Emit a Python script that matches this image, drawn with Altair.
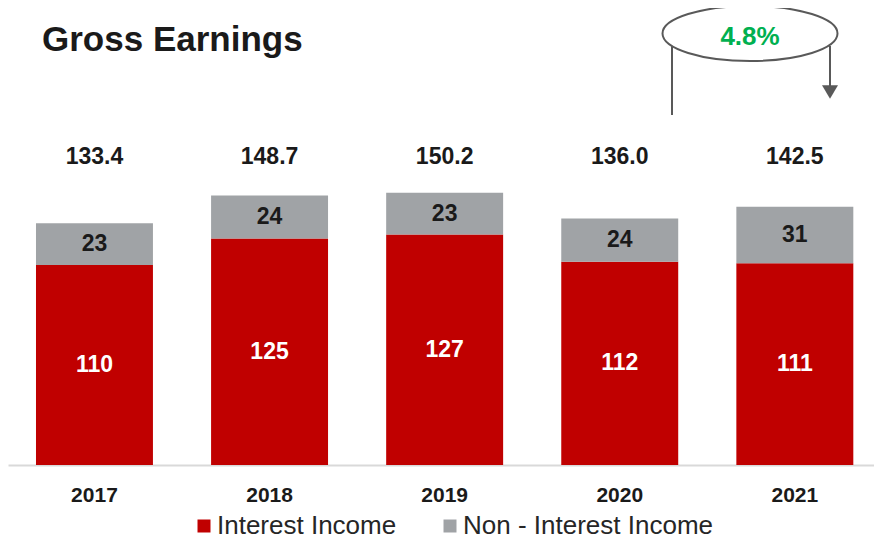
import altair as alt
import pandas as pd

years = ["2017", "2018", "2019", "2020", "2021"]
interest = [110.4, 125.0, 127.2, 112.2, 111.3]
non_interest = [23.0, 23.7, 23.0, 23.8, 31.2]
totals = [133.4, 148.7, 150.2, 136.0, 142.5]
series_names = ["Interest Income", "Non - Interest Income"]
series_colors = ["#C00000", "#A0A3A6"]
chart_title = "Gross Earnings"
growth_label = "4.8%"

rows = []
for i, y in enumerate(years):
    rows.append({"year": y, "series": series_names[0], "value": interest[i], "ord": 0})
    rows.append({"year": y, "series": series_names[1], "value": non_interest[i], "ord": 1})
long = pd.DataFrame(rows)
tot_df = pd.DataFrame({"year": years, "total": totals})

FONT = "Liberation Sans"

x_enc = alt.X(
    "year:N",
    sort=years,
    scale=alt.Scale(paddingInner=0.332, paddingOuter=0.139, align=0.575),
    axis=alt.Axis(
        title=None, labelAngle=0, labelFont=FONT, labelFontSize=21,
        labelFontWeight="bold", labelColor="#1a1a1a", ticks=False,
        domainColor="#D9D9D9", domainWidth=2, labelPadding=19,
    ),
)
y_scale = alt.Scale(domain=[0, 246.7], nice=False)

bars = alt.Chart(long).mark_bar().encode(
    x=x_enc,
    y=alt.Y("value:Q", stack="zero", scale=y_scale, axis=None),
    color=alt.Color(
        "series:N",
        scale=alt.Scale(domain=series_names, range=series_colors),
        legend=alt.Legend(
            orient="none", legendX=183, legendY=495, direction="horizontal",
            title=None, symbolType="square", symbolSize=169,
            labelFontSize=26, labelFont=FONT, labelColor="#262626",
            columnPadding=40, labelOffset=0, symbolStrokeWidth=0, labelLimit=400,
        ),
    ),
    order=alt.Order("ord:Q"),
)

seg_labels = alt.Chart(long).transform_stack(
    stack="value", groupby=["year"], as_=["y0", "y1"], sort=[alt.SortField("ord")]
).transform_calculate(
    mid="(datum.y0 + datum.y1) / 2"
).mark_text(font=FONT, fontSize=23, fontWeight="bold", baseline="middle").encode(
    x=alt.X("year:N", sort=years),
    y=alt.Y("mid:Q", scale=y_scale),
    text=alt.Text("value:Q", format=".0f"),
    color=alt.condition(
        alt.datum.series == series_names[0], alt.value("white"), alt.value("#1a1a1a")
    ),
)

tot_labels = alt.Chart(tot_df).mark_text(
    font=FONT, fontSize=23, fontWeight="bold", baseline="middle", color="#1a1a1a"
).encode(
    x=alt.X("year:N", sort=years),
    y=alt.value(139),
    text=alt.Text("total:Q", format=".1f"),
)

ann_df = pd.DataFrame({"title": [chart_title], "growth": [growth_label]})
base_ann = alt.Chart(ann_df)

title_txt = base_ann.mark_text(
    font=FONT, fontSize=35, fontWeight="bold", align="left", baseline="middle", color="#1a1a1a"
).encode(x=alt.value(34), y=alt.value(22), text="title:N")

ellipse = base_ann.mark_point(
    shape="M-1,0A1,0.314,0,1,0,1,0A1,0.314,0,1,0,-1,0Z",
    size=30625, filled=False, stroke="#595959", strokeWidth=2, opacity=1,
).encode(x=alt.value(742), y=alt.value(15.5))

growth_txt = base_ann.mark_text(
    font=FONT, fontSize=26, fontWeight="bold", baseline="middle", color="#00B050"
).encode(x=alt.value(742), y=alt.value(19), text="growth:N")

left_line = base_ann.mark_rule(color="#595959", strokeWidth=2).encode(
    x=alt.value(664), y=alt.value(28), y2=alt.value(97)
)
right_line = base_ann.mark_rule(color="#595959", strokeWidth=2).encode(
    x=alt.value(822), y=alt.value(28), y2=alt.value(70)
)
arrow_head = base_ann.mark_point(
    shape="M-1,-0.85L1,-0.85L0,0.85Z", filled=True, fill="#595959",
    size=256, strokeWidth=0, opacity=1,
).encode(x=alt.value(822), y=alt.value(74))

chart = alt.layer(
    bars, seg_labels, tot_labels, title_txt, left_line, right_line, arrow_head,
    ellipse, growth_txt,
).properties(
    width=866, height=447,
    padding={"top": 10, "left": 0, "right": 0, "bottom": 74},
    autosize=alt.AutoSizeParams(type="none"),
).configure_view(stroke=None)

chart.save("out.html", embed_options={"renderer": "svg", "actions": False})
